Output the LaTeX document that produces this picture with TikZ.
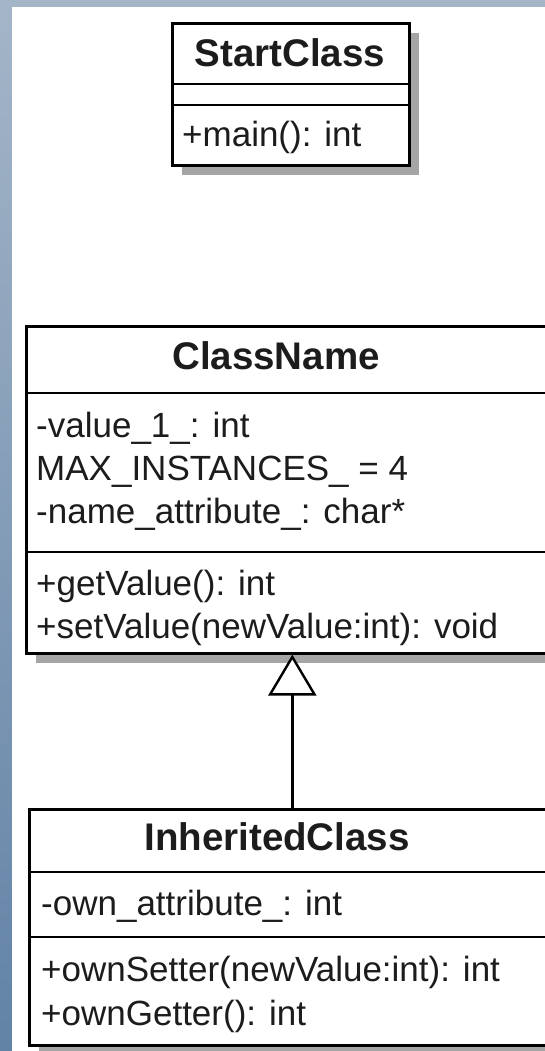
\documentclass[tikz,border=0pt]{standalone}
\usepackage{fontspec}
\setmainfont{Liberation Sans}
\usepackage{tikz}
\usetikzlibrary{shapes,backgrounds,calc,shadows,arrows.meta}

\definecolor{panelTop}{RGB}{164,181,200}
\definecolor{panelBottom}{RGB}{98,131,166}
\definecolor{shadowGray}{RGB}{165,165,165}
\definecolor{inkGray}{RGB}{28,28,28}

\begin{document}
\begin{tikzpicture}[x=1pt,y=-1pt]
        % Define the styles for the class boxes and their texts
        \tikzstyle{class box}=[draw=black, line width=2.6pt, fill=white, rectangle, inner sep=0pt, anchor=north west, drop shadow={shadow xshift=10pt, shadow yshift=-10pt, fill=shadowGray, opacity=1}];
        \tikzstyle{divider}=[draw=black, line width=2.6pt];
        \tikzstyle{class title}=[inner sep=0pt, anchor=base, text=inkGray, font=\fontsize{38.5}{46}\selectfont\bfseries];
        \tikzstyle{member}=[inner sep=0pt, anchor=base west, text=inkGray, font=\fontsize{35}{42}\selectfont];
        \tikzstyle{generalization}=[line width=2.4pt, -{Triangle[open, fill=white, length=41pt, width=48pt]}];

        % Fix the page and paint the blue frame with the white sheet on it
        \useasboundingbox (0,0) rectangle (545,1051);
        \clip (0,0) rectangle (545,1051);
        \shade[top color=panelTop, bottom color=panelBottom] (0,0) rectangle (545,1051);
        \fill[white] (12,7) rectangle (545,1051);

        % Draw the three class boxes
        \node[class box, minimum width=237, minimum height=142] (start) at (171,22) {};
        \node[class box, minimum width=532, minimum height=327] (className) at (25,325) {};
        \node[class box, minimum width=526, minimum height=236] (inherited) at (28,808) {};

        % Split each box into name, attributes and operations
        \draw[divider] ([yshift=-62pt]start.north west) -- ([yshift=-62pt]start.north east);
        \draw[divider] ([yshift=-83pt]start.north west) -- ([yshift=-83pt]start.north east);
        \draw[divider] ([yshift=-68pt]className.north west) -- ([yshift=-68pt]className.north east);
        \draw[divider] ([yshift=-227pt]className.north west) -- ([yshift=-227pt]className.north east);
        \draw[divider] ([yshift=-64pt]inherited.north west) -- ([yshift=-64pt]inherited.north east);
        \draw[divider] ([yshift=-129pt]inherited.north west) -- ([yshift=-129pt]inherited.north east);

        % Texts of StartClass
        \node[class title] (startTitle) at (290,67) {StartClass};
        \node[member] (startMain) at (182,147) {+main(): int};

        % Texts of ClassName
        \node[class title] (classTitle) at (276,369) {ClassName};
        \node[member] (classValue) at (36,437) {-value\_1\_: int};
        \node[member] (classMax) at (36,480) {MAX\_INSTANCES\_ = 4};
        \node[member] (classNameAttr) at (36,523) {-name\_attribute\_: char*};
        \node[member] (classGet) at (36,595) {+getValue(): int};
        \node[member] (classSet) at (36,638) {+setValue(newValue:int): void};

        % Texts of InheritedClass
        \node[class title] (inheritedTitle) at (277,850) {InheritedClass};
        \node[member] (inheritedAttr) at (41,915) {-own\_attribute\_: int};
        \node[member] (inheritedSet) at (41,981) {+ownSetter(newValue:int): int};
        \node[member] (inheritedGet) at (41,1025) {+ownGetter(): int};

        % Generalization from InheritedClass up to ClassName
        \draw[generalization] (inherited.north) -- (className.south);
    \end{tikzpicture}
\end{document}
